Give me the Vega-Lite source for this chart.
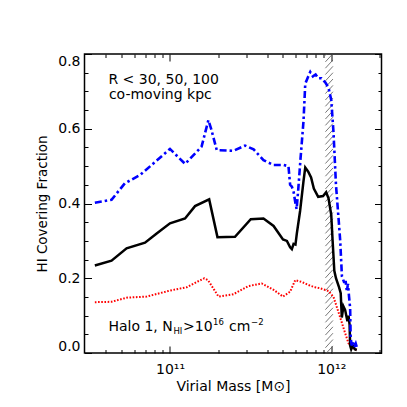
{
  "$schema": "https://vega.github.io/schema/vega-lite/v6.json",
  "width": 297,
  "height": 299,
  "autosize": {"type": "none"},
  "padding": {"left": 84.5, "top": 54, "right": 25.5, "bottom": 54},
  "background": "white",
  "config": {
    "view": {"stroke": "black", "strokeWidth": 1.5},
    "axis": {
      "domain": false, "grid": false, "tickColor": "black", "tickWidth": 1,
      "labelFont": "DejaVu Sans", "titleFont": "DejaVu Sans", "labelColor": "black",
      "titleColor": "black", "titleFontWeight": "normal", "labelFontSize": 14, "titleFontSize": 13.5
    }
  },
  "datasets": {
    "r30": [
      {"m": 3.42e10, "f": 0.136}, {"m": 4.34e10, "f": 0.137}, {"m": 5.38e10, "f": 0.148},
      {"m": 7.17e10, "f": 0.151}, {"m": 1.0e11, "f": 0.167}, {"m": 1.27e11, "f": 0.176},
      {"m": 1.63e11, "f": 0.2}, {"m": 1.72e11, "f": 0.195}, {"m": 2.0e11, "f": 0.151},
      {"m": 2.47e11, "f": 0.157}, {"m": 3.06e11, "f": 0.179}, {"m": 3.71e11, "f": 0.186},
      {"m": 4.39e11, "f": 0.169}, {"m": 5.02e11, "f": 0.151}, {"m": 5.56e11, "f": 0.164},
      {"m": 5.98e11, "f": 0.195}, {"m": 6.57e11, "f": 0.19}, {"m": 7.41e11, "f": 0.18},
      {"m": 7.95e11, "f": 0.176}, {"m": 8.55e11, "f": 0.173}, {"m": 9.62e11, "f": 0.166},
      {"m": 1.033e12, "f": 0.15}, {"m": 1.137e12, "f": 0.095}, {"m": 1.22e12, "f": 0.053},
      {"m": 1.28e12, "f": 0.026}, {"m": 1.375e12, "f": 0.012}, {"m": 1.445e12, "f": 0.008}
    ],
    "r50": [
      {"m": 3.42e10, "f": 0.234}, {"m": 4.34e10, "f": 0.247}, {"m": 5.38e10, "f": 0.28},
      {"m": 7.0e10, "f": 0.295}, {"m": 8.27e10, "f": 0.32}, {"m": 1.0e11, "f": 0.347},
      {"m": 1.24e11, "f": 0.36}, {"m": 1.43e11, "f": 0.393}, {"m": 1.75e11, "f": 0.411},
      {"m": 1.97e11, "f": 0.31}, {"m": 2.53e11, "f": 0.311}, {"m": 3.17e11, "f": 0.358},
      {"m": 3.8e11, "f": 0.36}, {"m": 4.39e11, "f": 0.34}, {"m": 5.02e11, "f": 0.304},
      {"m": 5.31e11, "f": 0.3}, {"m": 5.56e11, "f": 0.283}, {"m": 5.7e11, "f": 0.278},
      {"m": 5.84e11, "f": 0.292}, {"m": 6.0e11, "f": 0.29}, {"m": 6.12e11, "f": 0.32},
      {"m": 6.41e11, "f": 0.38}, {"m": 6.73e11, "f": 0.46}, {"m": 6.9e11, "f": 0.496},
      {"m": 7.2e11, "f": 0.485}, {"m": 7.5e11, "f": 0.47}, {"m": 7.8e11, "f": 0.44},
      {"m": 8.3e11, "f": 0.418}, {"m": 8.9e11, "f": 0.42}, {"m": 9.3e11, "f": 0.43},
      {"m": 9.62e11, "f": 0.414}, {"m": 1.0e12, "f": 0.37}, {"m": 1.02e12, "f": 0.3},
      {"m": 1.045e12, "f": 0.22}, {"m": 1.07e12, "f": 0.2}, {"m": 1.12e12, "f": 0.175},
      {"m": 1.145e12, "f": 0.16}, {"m": 1.163e12, "f": 0.095}, {"m": 1.19e12, "f": 0.125},
      {"m": 1.22e12, "f": 0.115}, {"m": 1.26e12, "f": 0.085}, {"m": 1.28e12, "f": 0.1},
      {"m": 1.3e12, "f": 0.075}, {"m": 1.31e12, "f": 0.02}, {"m": 1.33e12, "f": 0.01},
      {"m": 1.36e12, "f": 0.02}, {"m": 1.4e12, "f": 0.01}, {"m": 1.44e12, "f": 0.008}
    ],
    "r100": [
      {"m": 3.42e10, "f": 0.402}, {"m": 4.34e10, "f": 0.41}, {"m": 5.25e10, "f": 0.454},
      {"m": 6.51e10, "f": 0.476}, {"m": 7.88e10, "f": 0.507}, {"m": 1.0e11, "f": 0.546},
      {"m": 1.24e11, "f": 0.506}, {"m": 1.57e11, "f": 0.552}, {"m": 1.73e11, "f": 0.623},
      {"m": 1.8e11, "f": 0.6}, {"m": 1.95e11, "f": 0.543}, {"m": 2.47e11, "f": 0.541},
      {"m": 2.92e11, "f": 0.555}, {"m": 3.3e11, "f": 0.545}, {"m": 3.8e11, "f": 0.516},
      {"m": 4.39e11, "f": 0.503}, {"m": 5.06e11, "f": 0.503}, {"m": 5.43e11, "f": 0.5},
      {"m": 5.56e11, "f": 0.45}, {"m": 5.7e11, "f": 0.445}, {"m": 5.85e11, "f": 0.43},
      {"m": 6.0e11, "f": 0.4}, {"m": 6.1e11, "f": 0.385}, {"m": 6.25e11, "f": 0.44},
      {"m": 6.45e11, "f": 0.52}, {"m": 6.73e11, "f": 0.62}, {"m": 6.9e11, "f": 0.72},
      {"m": 7.2e11, "f": 0.74}, {"m": 7.41e11, "f": 0.752}, {"m": 7.7e11, "f": 0.74},
      {"m": 8.0e11, "f": 0.745}, {"m": 8.3e11, "f": 0.735}, {"m": 8.7e11, "f": 0.735},
      {"m": 9.18e11, "f": 0.724}, {"m": 9.62e11, "f": 0.71}, {"m": 1.0e12, "f": 0.677},
      {"m": 1.033e12, "f": 0.59}, {"m": 1.07e12, "f": 0.45}, {"m": 1.11e12, "f": 0.36},
      {"m": 1.137e12, "f": 0.3}, {"m": 1.165e12, "f": 0.205}, {"m": 1.2e12, "f": 0.19},
      {"m": 1.23e12, "f": 0.19}, {"m": 1.25e12, "f": 0.165}, {"m": 1.27e12, "f": 0.185},
      {"m": 1.29e12, "f": 0.15}, {"m": 1.31e12, "f": 0.12}, {"m": 1.32e12, "f": 0.04},
      {"m": 1.34e12, "f": 0.02}, {"m": 1.36e12, "f": 0.03}, {"m": 1.39e12, "f": 0.015},
      {"m": 1.42e12, "f": 0.025}, {"m": 1.45e12, "f": 0.012}
    ],
    "hatch": [
      {"m1": 9.2e11, "m2": 1.025e12, "y0": -0.02, "y1": 0.002},
      {"m1": 9.2e11, "m2": 1.025e12, "y0": -0.003, "y1": 0.019},
      {"m1": 9.2e11, "m2": 1.025e12, "y0": 0.014, "y1": 0.036},
      {"m1": 9.2e11, "m2": 1.025e12, "y0": 0.031, "y1": 0.053},
      {"m1": 9.2e11, "m2": 1.025e12, "y0": 0.048, "y1": 0.07},
      {"m1": 9.2e11, "m2": 1.025e12, "y0": 0.065, "y1": 0.087},
      {"m1": 9.2e11, "m2": 1.025e12, "y0": 0.082, "y1": 0.104},
      {"m1": 9.2e11, "m2": 1.025e12, "y0": 0.099, "y1": 0.121},
      {"m1": 9.2e11, "m2": 1.025e12, "y0": 0.116, "y1": 0.138},
      {"m1": 9.2e11, "m2": 1.025e12, "y0": 0.133, "y1": 0.155},
      {"m1": 9.2e11, "m2": 1.025e12, "y0": 0.15, "y1": 0.172},
      {"m1": 9.2e11, "m2": 1.025e12, "y0": 0.167, "y1": 0.189},
      {"m1": 9.2e11, "m2": 1.025e12, "y0": 0.184, "y1": 0.206},
      {"m1": 9.2e11, "m2": 1.025e12, "y0": 0.201, "y1": 0.223},
      {"m1": 9.2e11, "m2": 1.025e12, "y0": 0.218, "y1": 0.24},
      {"m1": 9.2e11, "m2": 1.025e12, "y0": 0.235, "y1": 0.257},
      {"m1": 9.2e11, "m2": 1.025e12, "y0": 0.252, "y1": 0.274},
      {"m1": 9.2e11, "m2": 1.025e12, "y0": 0.269, "y1": 0.291},
      {"m1": 9.2e11, "m2": 1.025e12, "y0": 0.286, "y1": 0.308},
      {"m1": 9.2e11, "m2": 1.025e12, "y0": 0.303, "y1": 0.325},
      {"m1": 9.2e11, "m2": 1.025e12, "y0": 0.32, "y1": 0.342},
      {"m1": 9.2e11, "m2": 1.025e12, "y0": 0.337, "y1": 0.359},
      {"m1": 9.2e11, "m2": 1.025e12, "y0": 0.354, "y1": 0.376},
      {"m1": 9.2e11, "m2": 1.025e12, "y0": 0.371, "y1": 0.393},
      {"m1": 9.2e11, "m2": 1.025e12, "y0": 0.388, "y1": 0.41},
      {"m1": 9.2e11, "m2": 1.025e12, "y0": 0.405, "y1": 0.427},
      {"m1": 9.2e11, "m2": 1.025e12, "y0": 0.422, "y1": 0.444},
      {"m1": 9.2e11, "m2": 1.025e12, "y0": 0.439, "y1": 0.461},
      {"m1": 9.2e11, "m2": 1.025e12, "y0": 0.456, "y1": 0.478},
      {"m1": 9.2e11, "m2": 1.025e12, "y0": 0.473, "y1": 0.495},
      {"m1": 9.2e11, "m2": 1.025e12, "y0": 0.49, "y1": 0.512},
      {"m1": 9.2e11, "m2": 1.025e12, "y0": 0.507, "y1": 0.529},
      {"m1": 9.2e11, "m2": 1.025e12, "y0": 0.524, "y1": 0.546},
      {"m1": 9.2e11, "m2": 1.025e12, "y0": 0.541, "y1": 0.563},
      {"m1": 9.2e11, "m2": 1.025e12, "y0": 0.558, "y1": 0.58},
      {"m1": 9.2e11, "m2": 1.025e12, "y0": 0.575, "y1": 0.597},
      {"m1": 9.2e11, "m2": 1.025e12, "y0": 0.592, "y1": 0.614},
      {"m1": 9.2e11, "m2": 1.025e12, "y0": 0.609, "y1": 0.631},
      {"m1": 9.2e11, "m2": 1.025e12, "y0": 0.626, "y1": 0.648},
      {"m1": 9.2e11, "m2": 1.025e12, "y0": 0.643, "y1": 0.665},
      {"m1": 9.2e11, "m2": 1.025e12, "y0": 0.66, "y1": 0.682},
      {"m1": 9.2e11, "m2": 1.025e12, "y0": 0.677, "y1": 0.699},
      {"m1": 9.2e11, "m2": 1.025e12, "y0": 0.694, "y1": 0.716},
      {"m1": 9.2e11, "m2": 1.025e12, "y0": 0.711, "y1": 0.733},
      {"m1": 9.2e11, "m2": 1.025e12, "y0": 0.728, "y1": 0.75},
      {"m1": 9.2e11, "m2": 1.025e12, "y0": 0.745, "y1": 0.767},
      {"m1": 9.2e11, "m2": 1.025e12, "y0": 0.762, "y1": 0.784},
      {"m1": 9.2e11, "m2": 1.025e12, "y0": 0.779, "y1": 0.801},
      {"m1": 9.2e11, "m2": 1.025e12, "y0": 0.796, "y1": 0.818}
    ],
    "bigtext": [
      {"t": "R < 30, 50, 100", "m": 4.15e10, "f": 0.72},
      {"t": "co-moving kpc", "m": 4.18e10, "f": 0.68},
      {"t": "Halo 1, N", "m": 4.15e10, "f": 0.059},
      {"t": ">10", "m": 1.204e11, "f": 0.059},
      {"t": "cm", "m": 2.325e11, "f": 0.059}
    ],
    "smalltext": [
      {"t": "HI", "m": 1.051e11, "f": 0.0495},
      {"t": "16", "m": 1.849e11, "f": 0.0749},
      {"t": "−2", "m": 3.184e11, "f": 0.0749}
    ]
  },
  "resolve": {"axis": {"x": "independent", "y": "independent"}},
  "layer": [
    {
      "data": {"name": "hatch"},
      "mark": {"type": "rule", "color": "#555555", "strokeWidth": 0.8, "clip": true},
      "encoding": {
        "x": {"field": "m1", "type": "quantitative", "scale": {"type": "log", "domain": [2.95e10, 2.05e12], "nice": false},
          "axis": {"orient": "top", "values": [4e10, 5e10, 6e10, 7e10, 8e10, 9e10, 2e11, 3e11, 4e11, 5e11, 6e11, 7e11, 8e11, 9e11, 2e12], "tickSize": -3.5, "labels": false, "title": null}},
        "x2": {"field": "m2"},
        "y": {"field": "y0", "type": "quantitative", "scale": {"domain": [0, 0.8], "nice": false, "zero": false},
          "axis": {"orient": "right", "values": [0.05, 0.1, 0.15, 0.25, 0.3, 0.35, 0.45, 0.5, 0.55, 0.65, 0.7, 0.75], "tickSize": -3.5, "labels": false, "title": null}},
        "y2": {"field": "y1"}
      }
    },
    {
      "data": {"name": "r30"},
      "mark": {"type": "line", "color": "#ff0000", "strokeWidth": 2, "strokeDash": [1.6, 1.6], "clip": true},
      "encoding": {
        "x": {"field": "m", "type": "quantitative", "scale": {"type": "log", "domain": [2.95e10, 2.05e12], "nice": false},
          "axis": {"orient": "bottom", "values": [1e11, 1e12], "labelExpr": "datum.value < 5e11 ? '10¹¹' : '10¹²'", "tickSize": -7, "labelPadding": 16.5, "title": "Virial Mass [M⊙]", "titlePadding": 3, "titleFontSize": 14}},
        "y": {"field": "f", "type": "quantitative", "scale": {"domain": [0, 0.8], "nice": false, "zero": false},
          "axis": {"orient": "left", "values": [0, 0.2, 0.4, 0.6, 0.8], "format": ".1f", "labelFlush": true, "tickSize": -7, "labelPadding": 11.5, "title": "HI Covering Fraction", "titlePadding": 8}}
      }
    },
    {
      "data": {"name": "r50"},
      "mark": {"type": "line", "color": "black", "strokeWidth": 2.5, "clip": true},
      "encoding": {
        "x": {"field": "m", "type": "quantitative", "scale": {"type": "log", "domain": [2.95e10, 2.05e12], "nice": false},
          "axis": {"orient": "bottom", "values": [4e10, 5e10, 6e10, 7e10, 8e10, 9e10, 2e11, 3e11, 4e11, 5e11, 6e11, 7e11, 8e11, 9e11, 2e12], "tickSize": -3.5, "labels": false, "title": null}},
        "y": {"field": "f", "type": "quantitative", "scale": {"domain": [0, 0.8], "nice": false, "zero": false},
          "axis": {"orient": "left", "values": [0.05, 0.1, 0.15, 0.25, 0.3, 0.35, 0.45, 0.5, 0.55, 0.65, 0.7, 0.75], "tickSize": -3.5, "labels": false, "title": null}}
      }
    },
    {
      "data": {"name": "r100"},
      "mark": {"type": "line", "color": "#0000ff", "strokeWidth": 2.6, "strokeDash": [7, 3, 2.5, 3], "clip": true},
      "encoding": {
        "x": {"field": "m", "type": "quantitative", "scale": {"type": "log", "domain": [2.95e10, 2.05e12], "nice": false},
          "axis": {"orient": "top", "values": [1e11, 1e12], "tickSize": -7, "labels": false, "title": null}},
        "y": {"field": "f", "type": "quantitative", "scale": {"domain": [0, 0.8], "nice": false, "zero": false},
          "axis": {"orient": "right", "values": [0, 0.2, 0.4, 0.6, 0.8], "tickSize": -7, "labels": false, "title": null}}
      }
    },
    {
      "data": {"name": "bigtext"},
      "mark": {"type": "text", "font": "DejaVu Sans", "fontSize": 14, "align": "left", "baseline": "alphabetic", "color": "black"},
      "encoding": {
        "x": {"field": "m", "type": "quantitative", "scale": {"type": "log", "domain": [2.95e10, 2.05e12], "nice": false}, "axis": null},
        "y": {"field": "f", "type": "quantitative", "scale": {"domain": [0, 0.8], "nice": false, "zero": false}, "axis": null},
        "text": {"field": "t"}
      }
    },
    {
      "data": {"name": "smalltext"},
      "mark": {"type": "text", "font": "DejaVu Sans", "fontSize": 8.5, "align": "left", "baseline": "alphabetic", "color": "black"},
      "encoding": {
        "x": {"field": "m", "type": "quantitative", "scale": {"type": "log", "domain": [2.95e10, 2.05e12], "nice": false}, "axis": null},
        "y": {"field": "f", "type": "quantitative", "scale": {"domain": [0, 0.8], "nice": false, "zero": false}, "axis": null},
        "text": {"field": "t"}
      }
    }
  ]
}
